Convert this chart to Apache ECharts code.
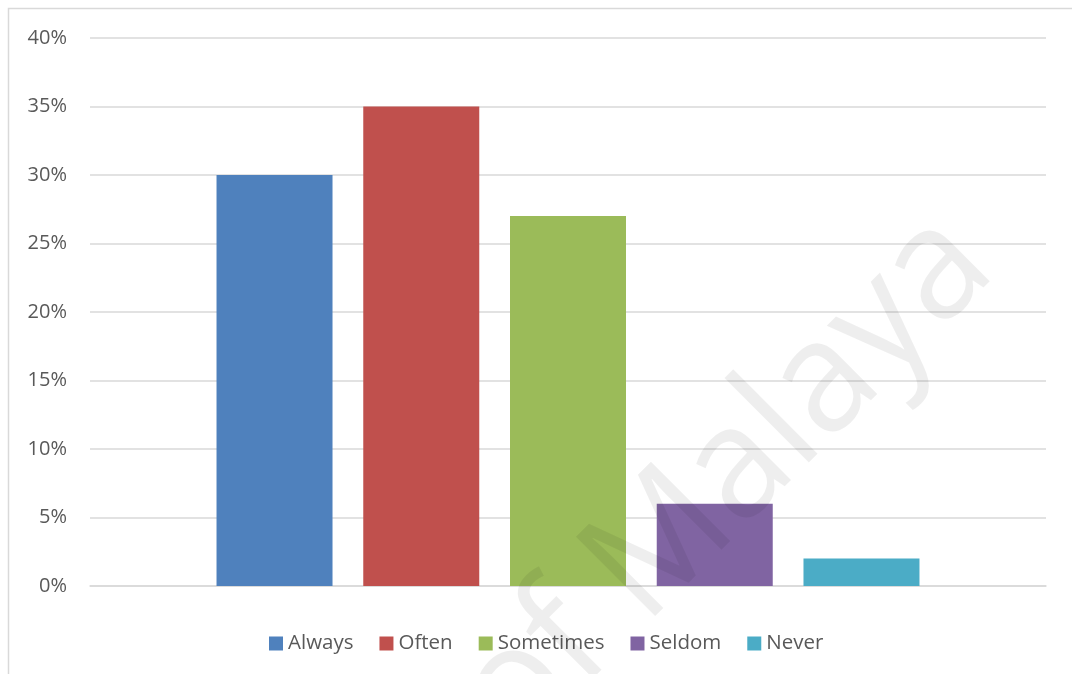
<!DOCTYPE html>
<html>
<head>
<meta charset="utf-8">
<script src="https://cdn.jsdelivr.net/npm/echarts@6/dist/echarts.min.js"></script>
<style>
  html, body { margin: 0; padding: 0; background: #fff; }
  #chart { width: 1072px; height: 674px; }
</style>
</head>
<body>
<div id="chart"></div>
<script>
// Response frequency shares (percent)
const seriesNames = ['Always', 'Often', 'Sometimes', 'Seldom', 'Never'];
const seriesValues = [30, 35, 27, 6, 2];
const seriesColors = ['#4F81BD', '#C0504D', '#9BBB59', '#8064A2', '#4BACC6'];
const yTicks = { min: 0, max: 40, interval: 5 };

const chart = echarts.init(document.getElementById('chart'), null, { renderer: 'canvas' });

const FONT = '"Open Sans", sans-serif';

const series = seriesNames.map((name, i) => ({
  name: name,
  type: 'bar',
  data: [seriesValues[i]],
  barWidth: 116,
  barGap: '26.5%',
  itemStyle: { color: seriesColors[i] },
  emphasis: { disabled: true }
}));

chart.setOption({
  animation: false,
  backgroundColor: '#ffffff',
  grid: { left: 90, right: 26, top: 38, bottom: 88, containLabel: false },
  legend: {
    data: seriesNames,
    bottom: 20,
    left: 269,
    padding: 0,
    icon: 'rect',
    itemWidth: 14,
    itemHeight: 14,
    itemGap: 26,
    textStyle: { fontFamily: FONT, fontSize: 20.5, color: '#595959' }
  },
  xAxis: {
    type: 'category',
    data: [''],
    axisLine: { show: true, lineStyle: { color: '#d9d9d9', width: 1.5 } },
    axisTick: { show: false },
    axisLabel: { show: false }
  },
  yAxis: {
    type: 'value',
    min: yTicks.min,
    max: yTicks.max,
    interval: yTicks.interval,
    axisLine: { show: false },
    axisTick: { show: false },
    axisLabel: {
      formatter: v => v + '%',
      fontFamily: FONT,
      fontSize: 20,
      color: '#595959',
      margin: 23
    },
    splitLine: { lineStyle: { color: '#d9d9d9', width: 1.5 } }
  },
  series: series,
  graphic: [
    {
      type: 'rect',
      silent: true,
      z: -1,
      shape: { x: 8.5, y: 8.5, width: 1200, height: 800 },
      style: { fill: 'none', stroke: '#d9d9d9', lineWidth: 1.5 }
    },
    {
      // diagonal watermark across the plot
      type: 'text',
      silent: true,
      z: 100,
      x: 541,
      y: 778,
      rotation: Math.PI / 4,
      scaleX: 0.96,
      style: {
        text: 'of Malaya',
        font: '500 157px "Open Sans", sans-serif',
        fill: 'rgba(0,0,0,0.065)',
        align: 'left',
        verticalAlign: 'bottom'
      }
    }
  ]
});
</script>
</body>
</html>
